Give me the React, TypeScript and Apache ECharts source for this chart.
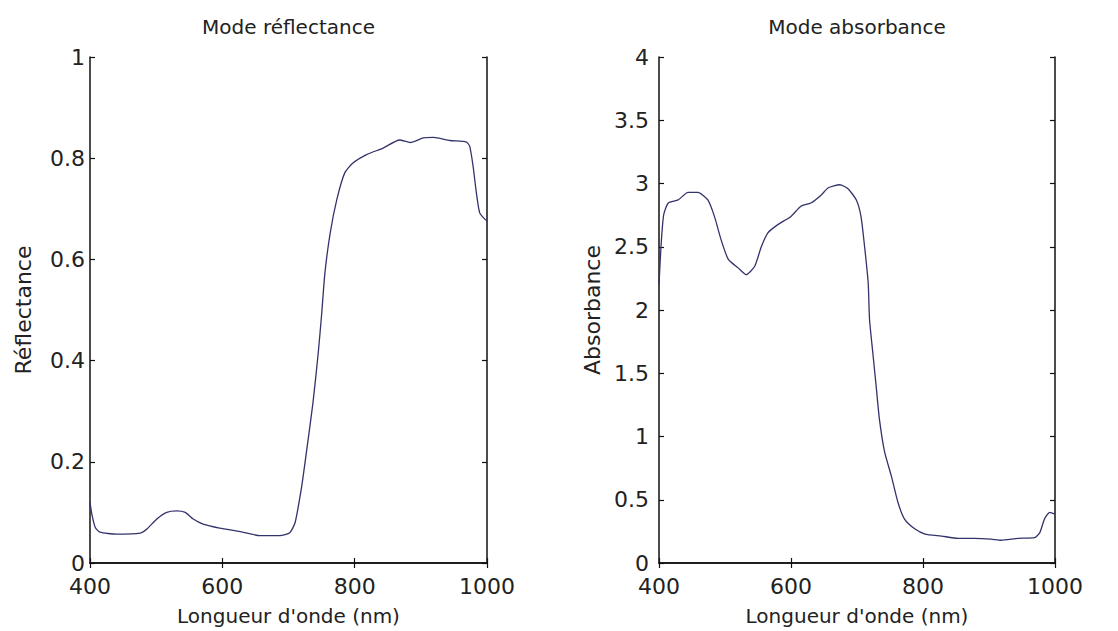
import React, { useEffect, useRef } from "react";
import * as echarts from "echarts";

// Reflectance mode (left)
const reflWavelengths = [400, 403, 408, 415, 440, 476, 486, 501, 516, 531, 544, 556, 571, 596, 627, 657, 687, 702, 710, 720, 727, 737, 745, 750, 755, 763, 773, 785, 797, 818, 843, 868, 884, 904, 919, 944, 969, 974, 979, 984, 989, 997, 1000];
const reflValues = [0.12, 0.095, 0.07, 0.061, 0.057, 0.059, 0.067, 0.087, 0.1, 0.103, 0.1, 0.087, 0.077, 0.069, 0.062, 0.054, 0.054, 0.06, 0.08, 0.152, 0.218, 0.317, 0.416, 0.49, 0.573, 0.652, 0.718, 0.771, 0.79, 0.807, 0.82, 0.836, 0.831, 0.84, 0.841, 0.835, 0.832, 0.823, 0.784, 0.731, 0.692, 0.679, 0.676];

// Absorbance mode (right)
const absWavelengths = [400, 403, 407, 414, 429, 444, 459, 474, 484, 494, 505, 520, 532, 545, 555, 565, 580, 600, 615, 630, 646, 656, 674, 686, 699, 706, 712, 717, 719, 724, 729, 734, 742, 752, 762, 772, 788, 803, 828, 853, 878, 903, 918, 944, 969, 977, 984, 992, 1000];
const absValues = [2.2, 2.5, 2.75, 2.846, 2.87, 2.93, 2.93, 2.87, 2.74, 2.556, 2.4, 2.333, 2.28, 2.346, 2.5, 2.61, 2.675, 2.74, 2.82, 2.846, 2.91, 2.964, 2.99, 2.96, 2.87, 2.74, 2.477, 2.21, 1.925, 1.66, 1.4, 1.136, 0.874, 0.689, 0.48, 0.347, 0.268, 0.229, 0.213, 0.195, 0.195, 0.189, 0.18, 0.195, 0.2, 0.24, 0.347, 0.4, 0.387];

const xTicks = { min: 400, max: 1000, interval: 200 };
const reflTicks = { min: 0, max: 1, interval: 0.2 };
const absTicks = { min: 0, max: 4, interval: 0.5 };

const titles = ["Mode réflectance", "Mode absorbance"];
const yNames = ["Réflectance", "Absorbance"];
const xName = "Longueur d'onde (nm)";

const FONT = "DejaVu Sans";
const TEXT = "#222";
const LINE = "#33336b";

export default function App() {
  const ref = useRef<HTMLDivElement>(null);
  useEffect(() => {
    if (!ref.current) return;
    const chart = echarts.init(ref.current, undefined, { renderer: "svg" });
    const grids = [
      { left: 90, top: 57, width: 397, height: 507 },
      { left: 659, top: 57, width: 396, height: 507 },
    ];
    const axisLine = { show: true, lineStyle: { color: "#111", width: 1.5 } };
    const tick = { show: true, inside: true, length: 5, lineStyle: { color: "#111", width: 1.2 } };
    const xAxes: any[] = [];
    const yAxes: any[] = [];
    const yTicks = [reflTicks, absTicks];
    const yLabelMargins = [5, 10];
    for (let g = 0; g < 2; g++) {
      xAxes.push({
        type: "value", gridIndex: g, position: "bottom", ...xTicks,
        axisLine, axisTick: tick, splitLine: { show: false },
        axisLabel: { color: TEXT, fontFamily: FONT, fontSize: 22, lineHeight: 18, margin: 14, formatter: (v: number) => String(v) },
        name: xName, nameLocation: "middle", nameGap: 43,
        nameTextStyle: { color: TEXT, fontFamily: FONT, fontSize: 20 },
      });
      xAxes.push({
        type: "value", gridIndex: g, position: "top", ...xTicks,
        axisLine, axisTick: tick, splitLine: { show: false },
        axisLabel: { show: false },
      });
      yAxes.push({
        type: "value", gridIndex: g, position: "left", ...yTicks[g],
        axisLine, axisTick: tick, splitLine: { show: false },
        axisLabel: { color: TEXT, fontFamily: FONT, fontSize: 22, lineHeight: 18, margin: yLabelMargins[g], formatter: (v: number) => String(v) },
        name: yNames[g], nameLocation: "middle", nameGap: 56,
        nameTextStyle: { color: TEXT, fontFamily: FONT, fontSize: 22 },
      });
      yAxes.push({
        type: "value", gridIndex: g, position: "right", ...yTicks[g],
        axisLine, axisTick: tick, splitLine: { show: false },
        axisLabel: { show: false },
      });
    }
    const reflData = reflWavelengths.map((w, i) => [w, reflValues[i]]);
    const absData = absWavelengths.map((w, i) => [w, absValues[i]]);
    chart.setOption({
      animation: false,
      backgroundColor: "#fff",
      grid: grids,
      xAxis: xAxes,
      yAxis: yAxes,
      graphic: titles.map((t, g) => ({
        type: "text",
        x: grids[g].left + grids[g].width / 2,
        y: 27,
        style: { text: t, align: "center", verticalAlign: "middle", fill: TEXT, font: `20px '${FONT}'` },
      })),
      series: [
        { type: "line", xAxisIndex: 0, yAxisIndex: 0, data: reflData, showSymbol: false, smooth: 0.2, lineStyle: { color: LINE, width: 1.3 } },
        { type: "line", xAxisIndex: 2, yAxisIndex: 2, data: absData, showSymbol: false, smooth: 0.2, lineStyle: { color: LINE, width: 1.3 } },
      ],
    });
    return () => chart.dispose();
  }, []);
  return <div ref={ref} style={{ position: "absolute", left: 0, top: 0, width: 1118, height: 631 }} />;
}
